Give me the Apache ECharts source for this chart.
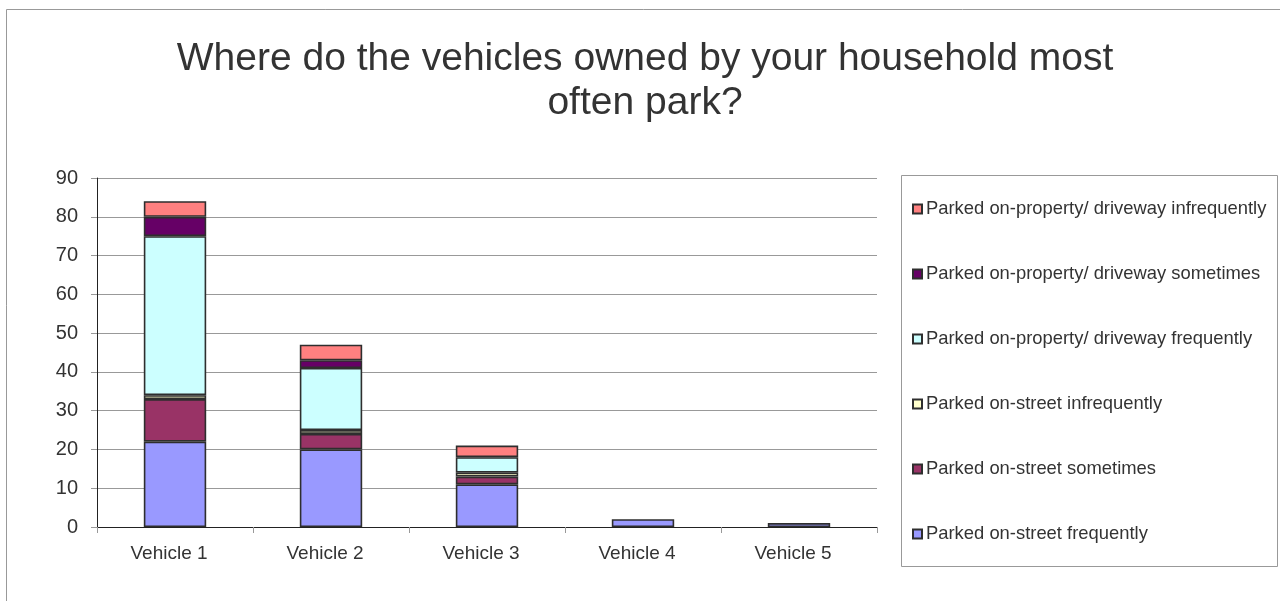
<!DOCTYPE html>
<html>
<head>
<meta charset="utf-8">
<script src="https://cdn.jsdelivr.net/npm/echarts@6/dist/echarts.min.js"></script>
<style>html,body{margin:0;padding:0;background:#fff}#c{width:1280px;height:601px}</style>
</head>
<body>
<div id="c"></div>
<script>
var categories = ['Vehicle 1', 'Vehicle 2', 'Vehicle 3', 'Vehicle 4', 'Vehicle 5'];
var streetFrequently = [22, 20, 11, 2, 1];
var streetSometimes = [11, 4, 2, 0, 0];
var streetInfrequently = [1, 1, 1, 0, 0];
var propertyFrequently = [41, 16, 4, 0, 0];
var propertySometimes = [5, 2, 0, 0, 0];
var propertyInfrequently = [4, 4, 3, 0, 0];
var seriesNames = [
  'Parked on-street frequently',
  'Parked on-street sometimes',
  'Parked on-street infrequently',
  'Parked on-property/ driveway frequently',
  'Parked on-property/ driveway sometimes',
  'Parked on-property/ driveway infrequently'
];
var seriesColors = ['#9999FF', '#993366', '#FFFFCC', '#CCFFFF', '#660066', '#FF8080'];
var seriesValues = [streetFrequently, streetSometimes, streetInfrequently, propertyFrequently, propertySometimes, propertyInfrequently];

var font = 'Liberation Sans, Arial, sans-serif';
var chart = echarts.init(document.getElementById('c'));
var series = seriesNames.map(function (n, i) {
  return {
    name: n, type: 'bar', stack: 'all', barCategoryGap: '60%',
    data: seriesValues[i].map(function (v) { return v === 0 ? null : v; }),
    itemStyle: { color: seriesColors[i], borderColor: '#2e2e2e', borderWidth: 1.6 }
  };
});
chart.setOption({
  animation: false,
  backgroundColor: '#ffffff',
  title: {
    text: 'Where do the vehicles owned by your household most\noften park?',
    left: 640, top: 32, textAlign: 'center',
    textStyle: { fontFamily: font, fontSize: 39, fontWeight: 'normal', color: '#333333', lineHeight: 44, align: 'center' }
  },
  graphic: [
    { type: 'rect', shape: { x: 6.5, y: 9.5, width: 1300, height: 700 }, style: { fill: 'none', stroke: '#999999', lineWidth: 1 }, silent: true },
    { type: 'rect', shape: { x: 901.5, y: 175.5, width: 376, height: 391 }, style: { fill: 'none', stroke: '#999999', lineWidth: 1 }, silent: true }
  ],
  legend: {
    orient: 'vertical', left: 907, top: 195,
    data: seriesNames.slice().reverse(),
    itemWidth: 9, itemHeight: 9, itemGap: 47,
    icon: 'rect',
    textStyle: { fontFamily: font, fontSize: 18.4, color: '#333333', padding: [0, 0, 0, -1] },
    selectedMode: false
  },
  grid: { left: 97, top: 178, width: 780, height: 349, containLabel: false },
  xAxis: {
    type: 'category', data: categories,
    axisLine: { lineStyle: { color: '#222222', width: 1 } },
    axisTick: { show: true, length: 6, lineStyle: { color: '#999999' } },
    axisLabel: { fontFamily: font, fontSize: 19, color: '#333333', margin: 17, padding: [0, 12, 0, 0] }
  },
  yAxis: {
    type: 'value', min: 0, max: 90, interval: 10,
    axisLine: { show: true, lineStyle: { color: '#222222', width: 1 } },
    axisTick: { show: true, length: 6, lineStyle: { color: '#999999' } },
    axisLabel: { fontFamily: font, fontSize: 20, color: '#333333', margin: 19 },
    splitLine: { lineStyle: { color: '#999999', width: 1 } }
  },
  series: series
});
</script>
</body>
</html>
